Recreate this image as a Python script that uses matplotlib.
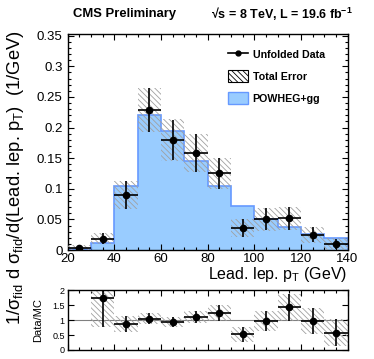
import matplotlib
matplotlib.use("Agg")
import matplotlib.pyplot as plt
import numpy as np
from matplotlib.lines import Line2D
from matplotlib.patches import Patch
from matplotlib.ticker import MultipleLocator

plt.rcParams['font.family'] = ['Liberation Sans', 'DejaVu Sans']
plt.rcParams['mathtext.fontset'] = 'custom'
plt.rcParams['mathtext.rm'] = 'Liberation Sans'
plt.rcParams['mathtext.it'] = 'Liberation Sans:italic'
plt.rcParams['mathtext.bf'] = 'Liberation Sans:bold'
plt.rcParams['hatch.linewidth'] = 0.6
plt.rcParams['hatch.color'] = '#a0a0a0'

# ---- data ----
bin_edges = [20, 30, 40, 50, 60, 70, 80, 90, 100, 110, 120, 130, 140]
powheg = [0.002, 0.011, 0.105, 0.221, 0.195, 0.146, 0.104, 0.072, 0.051, 0.037, 0.026, 0.019]
data = [0.004, 0.0185, 0.090, 0.229, 0.180, 0.159, 0.125, 0.0355, 0.050, 0.052, 0.025, 0.010]
data_err = [0.003, 0.0085, 0.023, 0.036, 0.033, 0.031, 0.025, 0.015, 0.018, 0.019, 0.012, 0.008]
total_err = [0.004, 0.0095, 0.023, 0.036, 0.034, 0.031, 0.026, 0.015, 0.019, 0.019, 0.013, 0.010]

ratio_centers = [35, 45, 55, 65, 75, 85, 95, 105, 115, 125, 135]
ratio = [1.72, 0.87, 1.05, 0.93, 1.10, 1.23, 0.52, 0.98, 1.42, 0.97, 0.58]
ratio_err = [0.94, 0.28, 0.17, 0.16, 0.20, 0.26, 0.24, 0.33, 0.46, 0.44, 0.45]

y_ticks = [0, 0.05, 0.1, 0.15, 0.2, 0.25, 0.3, 0.35]
y_ticklabels = ['0', '0.05', '0.1', '0.15', '0.2', '0.25', '0.3', '0.35']
x_ticks = [20, 40, 60, 80, 100, 120, 140]
r_ticks = [0, 0.5, 1, 1.5, 2]
r_ticklabels = ['0', '0.5', '1', '1.5', '2']

edges = np.array(bin_edges)
centers = 0.5 * (edges[:-1] + edges[1:])
widths = np.diff(edges)

blue_fill = '#99ccff'
blue_edge = '#6699ff'
hatch_col = '#a0a0a0'
HATCH = '\\' * 6

fig = plt.figure(figsize=(3.74, 3.59), dpi=100)
ax = fig.add_axes([0.1805, 0.3036, 0.7487, 0.6003])
axr = fig.add_axes([0.1805, 0.0251, 0.7487, 0.167])

# main panel
ax.stairs(powheg, edges, fill=True, color=blue_fill, zorder=1)
ax.stairs(powheg, edges, fill=False, color=blue_edge, linewidth=1.2, baseline=0, zorder=2)
d = np.array(data); te = np.array(total_err)
ax.bar(centers, 2 * te, bottom=d - te, width=widths, fill=False, hatch=HATCH,
       edgecolor=hatch_col, linewidth=0, zorder=3)
ax.errorbar(centers, data, xerr=widths / 2, yerr=data_err, fmt='o', color='black',
            markersize=4.5, elinewidth=1.2, capsize=0, zorder=5)

ax.set_xlim(20, 140)
ax.set_ylim(0, 0.352)
ax.set_yticks(y_ticks)
ax.set_yticklabels(y_ticklabels)
ax.set_xticks(x_ticks)
ax.yaxis.set_minor_locator(MultipleLocator(0.01))
ax.xaxis.set_minor_locator(MultipleLocator(5))
for a in (ax, axr):
    a.tick_params(which='both', direction='in', top=True, right=True, labelsize=9.5)
    a.tick_params(which='major', length=4.5, width=0.8)
    a.tick_params(which='minor', length=2.2, width=0.8)
    for s in a.spines.values():
        s.set_linewidth(1.0)
ax.tick_params(axis='x', pad=2)

# ratio panel
axr.axhline(1, color='#808080', linewidth=0.8, zorder=1)
rc = np.array(ratio_centers); rv = np.array(ratio); re = np.array(ratio_err)
axr.bar(rc, 2 * re, bottom=rv - re, width=10, fill=False, hatch=HATCH,
        edgecolor=hatch_col, linewidth=0, zorder=2)
axr.errorbar(rc, rv, xerr=5, yerr=re, fmt='o', color='black', markersize=4.5,
             elinewidth=1.2, capsize=0, zorder=5)
axr.set_xlim(20, 140)
axr.set_ylim(0, 2)
axr.set_yticks(r_ticks)
axr.set_yticklabels(r_ticklabels)
axr.xaxis.set_minor_locator(MultipleLocator(5))
axr.set_xticks(x_ticks)
axr.tick_params(axis='x', labelbottom=False)
axr.tick_params(axis='y', labelsize=6.5, pad=2)
fig.text(38 / 374, 1 - 320 / 359, 'Data/MC', rotation=90, ha='center', va='center', fontsize=8)

# labels
fig.text(16 / 374, 1 - 30 / 359,
         '1/σ$_{\\rm fid}$ d σ$_{\\rm fid}$/d(Lead. lep. p$_{\\rm T}$)  (1/GeV)',
         rotation=90, ha='center', va='top', fontsize=13.2)
fig.text(347 / 374, 1 - 278.5 / 359, 'Lead. lep. p$_{\\rm T}$ (GeV)', ha='right', va='baseline',
         fontsize=11.5)
fig.text(73 / 374, 1 - 14 / 359, 'CMS Preliminary', ha='left', va='center', fontsize=9.4,
         fontweight='bold')
fig.text(353 / 374, 1 - 14 / 359, '√s = 8 TeV, L = 19.6 fb$^{\\mathbf{-1}}$', ha='right',
         va='center', fontsize=9, fontweight='bold')

handles = [
    Line2D([0], [0], color='black', marker='o', markersize=3.5, linewidth=1.2),
    Patch(facecolor='white', edgecolor='black', hatch=HATCH, linewidth=0.8),
    Patch(facecolor=blue_fill, edgecolor=blue_edge, linewidth=1.0),
]
labels = ['Unfolded Data', 'Total Error', 'POWHEG+gg']
leg = fig.legend(handles, labels, loc='upper left', bbox_to_anchor=(228 / 374, 1 - 48 / 359),
                 frameon=False, prop={'weight': 'bold', 'size': 7.7}, handlelength=1.9,
                 handleheight=1.35, handletextpad=0.4, labelspacing=0.95, borderpad=0,
                 borderaxespad=0)

fig.savefig('out.png', dpi=100)
